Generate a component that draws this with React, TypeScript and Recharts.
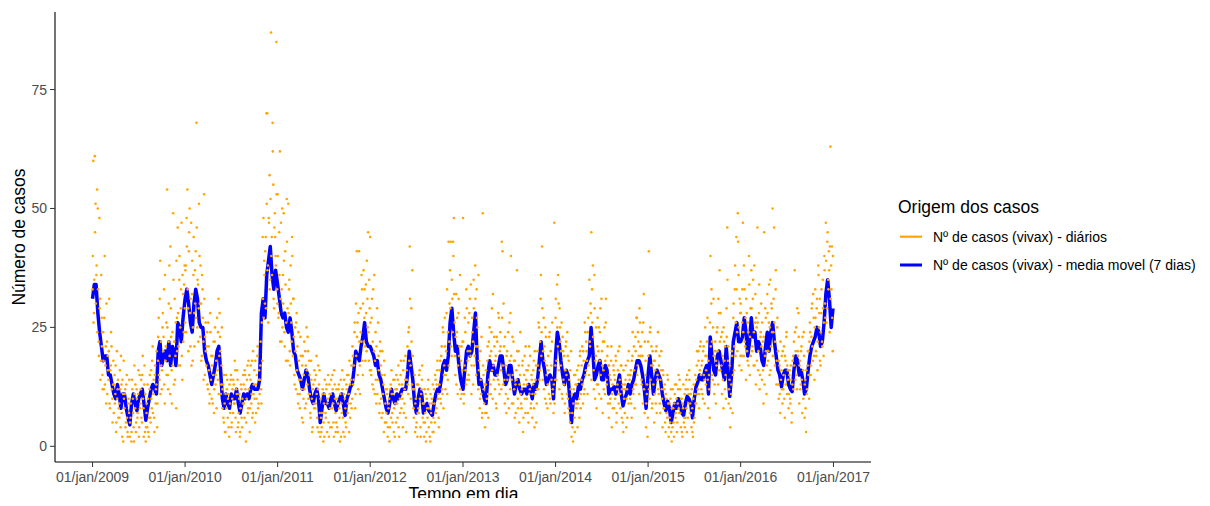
import React from 'react'
import { ComposedChart, XAxis, YAxis, Scatter, Line } from 'recharts'

const ORANGE = '#FFA500'
const BLUE = '#0000FF'
const FONT = '"Liberation Sans", Arial, sans-serif'

// day offsets (from 01/jan/2009) of each 1st of January, and their labels
const yearStarts = [0, 365, 730, 1095, 1461, 1826, 2191, 2556, 2922]
const tickLabels = [
  '01/jan/2009', '01/jan/2010', '01/jan/2011', '01/jan/2012', '01/jan/2013',
  '01/jan/2014', '01/jan/2015', '01/jan/2016', '01/jan/2017',
]
const yTicks = [0, 25, 50, 75]

// media movel (7 dias), one reading per week
const ma2009 = [31, 34, 34, 28, 24, 21, 18, 19, 19, 15, 15, 13, 11, 10, 13, 11, 8, 11, 11, 8, 6, 4.5, 9, 11, 9, 7.5, 10, 11, 12, 9, 5.5, 8, 10, 12, 13, 12, 11, 20, 22, 17, 19, 20, 18, 22, 17, 21, 20, 17, 26, 25, 22, 27]
const ma2010 = [31, 33, 30, 26, 24, 30, 33, 31, 26, 25, 25, 20, 18, 17, 15, 13, 15, 17, 20, 21, 16, 10, 8, 11, 9, 8, 11, 10, 10, 12, 9, 7, 9, 11, 10, 11, 10, 12, 13, 12, 12, 12, 14, 28, 31, 27, 36, 39, 42, 36, 33, 37]
const ma2011 = [34, 31, 28, 27, 28, 25, 24, 27, 24, 20, 19, 16, 15, 14, 12, 14, 16, 15, 12, 10, 9, 11, 12, 10, 5, 8, 11, 9, 9, 8, 10, 11, 9, 7.5, 9, 10, 11, 9, 6.5, 10, 11, 12.5, 13, 16, 20, 19, 18, 21, 23, 26, 22, 21]
const ma2012 = [21, 20, 19, 17, 18, 15, 14, 12, 10, 8, 7, 9, 12, 10, 9, 11, 10, 11, 12, 12, 12, 15, 20, 17, 14, 9, 7, 10, 12, 11, 7, 8, 9, 7.5, 7, 6.5, 9, 11, 12, 11.5, 14, 17, 18, 16, 19, 26, 29, 24, 20, 21, 17, 14]
const ma2013 = [12, 16, 20, 21, 19, 20, 24, 28, 18, 13, 14, 12, 10, 9, 15, 18, 16, 17, 15, 15, 17, 19, 19, 16, 13, 14, 17, 17, 14, 11, 13, 14, 12, 11, 12, 12, 11, 13, 12, 10, 13, 12, 14, 18, 22, 18, 16, 13, 14, 15, 14, 10]
const ma2014 = [19, 24, 22, 18, 15, 13, 16, 15, 10, 5, 10, 11, 10, 13, 12, 14, 15, 17, 18, 19, 25, 20, 14, 15, 17, 18, 14, 14, 17, 16, 11, 12, 12, 12.5, 11, 13, 15, 11, 8.5, 10, 11, 13, 11, 13, 14, 16, 18, 18, 17, 15, 12, 8]
const ma2015 = [15, 19, 15, 11, 14, 16, 15, 14, 11, 9, 7.5, 9.5, 8, 5, 7, 9, 8, 10, 9, 7, 6.5, 9, 10.5, 10, 9, 6, 10, 12.5, 13.5, 15, 14, 14, 16, 17, 11, 23, 19, 16, 15, 19, 20, 18, 16, 14, 21, 16, 10.5, 15, 22, 24, 26, 22]
const ma2016 = [22, 23, 27, 24, 19, 22, 27, 23, 24, 20, 22, 21, 18, 17, 21, 24, 20, 24, 26, 22, 19, 16, 15, 12.5, 15, 16, 16, 13, 12, 11.5, 16, 19, 18, 15, 16, 14, 11, 12, 16, 19, 21, 22, 23, 25, 24, 21, 22, 26, 32, 35, 31, 25, 29]

const daily2009 = [33, 60, 28, 61, 51, 36, 54, 50, 22, 48, 31, 18, 27, 15, 24, 12, 40, 17, 9, 22, 19, 14, 31, 8, 17, 21, 10, 13, 7, 15, 11, 3, 20, 12, 6, 9, 16, 4, 13, 2, 11, 18, 8, 12, 5, 15, 3, 9, 7, 2, 6, 1, 14, 10, 4, 17, 8, 3, 12, 6, 11, 2, 15, 9, 14, 5, 19, 8, 13, 3, 1, 7, 4, 10, 2, 12, 6, 16, 8, 21, 11, 6, 15, 9, 13, 4, 18, 27, 14, 39, 22, 12, 25, 20, 33, 9, 18, 26, 54, 15, 22, 38, 11, 29, 16, 24, 49, 13, 31, 19, 8, 27, 46, 21, 35, 17, 29, 47, 14, 32, 24, 38]
const daily2010 = [26, 38, 48, 54, 29, 41, 50, 21, 47, 32, 18, 36, 28, 37, 41, 68, 25, 34, 29, 40, 23, 30, 19, 33, 22, 53, 15, 26, 17, 24, 12, 21, 9, 28, 14, 10, 19, 15, 7, 22, 13, 18, 27, 14, 31, 19, 23, 11, 17, 8, 13, 5, 9, 3, 15, 12, 6, 11, 2, 9, 14, 4, 10, 7, 13, 9, 16, 3, 11, 14, 5, 10, 2, 8, 12, 4, 9, 13, 6, 15, 1, 10, 17, 8, 12, 3, 14, 9, 18, 7, 11, 16, 5, 13, 10, 19, 8, 14, 11, 17, 12, 26, 44, 48, 39, 30, 44, 70, 70, 38, 48, 57, 35, 87, 44, 68, 55, 29, 49, 40, 85, 33]
const daily2011 = [53, 27, 45, 62, 31, 22, 50, 36, 49, 24, 41, 18, 52, 29, 51, 33, 20, 38, 26, 44, 19, 31, 15, 25, 12, 28, 21, 9, 18, 11, 23, 14, 6, 19, 10, 22, 8, 17, 25, 13, 20, 11, 15, 7, 18, 10, 4, 13, 8, 14, 9, 19, 6, 12, 3, 16, 2, 6, 4, 11, 1, 9, 14, 7, 12, 3, 10, 5, 13, 8, 11, 4, 15, 9, 2, 13, 7, 5, 10, 3, 12, 8, 1, 14, 9, 16, 6, 11, 2, 8, 4, 12, 7, 15, 3, 13, 9, 17, 10, 19, 14, 24, 8, 30, 41, 26, 12, 41, 17, 29, 22, 33, 15, 37, 27, 21, 34, 20, 31, 45, 18, 29]
const daily2012 = [44, 16, 27, 13, 33, 20, 11, 24, 9, 29, 14, 19, 7, 22, 17, 6, 20, 11, 3, 15, 9, 5, 12, 2, 8, 10, 4, 13, 16, 7, 11, 3, 14, 9, 5, 12, 6, 17, 2, 10, 15, 8, 13, 4, 18, 9, 14, 6, 16, 21, 11, 25, 42, 17, 29, 13, 19, 8, 12, 3, 10, 5, 2, 13, 7, 16, 4, 11, 14, 6, 9, 2, 5, 11, 3, 8, 12, 4, 9, 1, 7, 10, 3, 6, 12, 5, 14, 8, 16, 10, 6, 13, 18, 9, 21, 11, 24, 15, 27, 12, 20, 33, 14, 43, 22, 37, 43, 19, 31, 43, 48, 26, 15, 32, 24, 11, 28, 19, 36, 10, 21, 16]
const daily2013 = [48, 9, 17, 24, 13, 29, 18, 26, 14, 31, 19, 11, 27, 22, 35, 17, 38, 21, 33, 25, 12, 16, 8, 20, 11, 6, 49, 15, 9, 4, 13, 7, 18, 11, 22, 25, 13, 20, 29, 10, 17, 23, 12, 19, 8, 22, 14, 27, 11, 24, 16, 43, 41, 13, 21, 9, 17, 7, 20, 10, 15, 26, 12, 40, 14, 23, 9, 18, 6, 13, 16, 37, 10, 20, 5, 15, 11, 8, 17, 3, 13, 19, 7, 14, 10, 16, 5, 21, 12, 8, 15, 6, 13, 18, 4, 11, 17, 9, 20, 12, 25, 16, 31, 19, 42, 14, 27, 21, 10, 23, 15, 8, 19, 11, 24, 9, 17, 22, 12, 7, 47, 14]
const daily2014 = [27, 14, 34, 21, 30, 12, 25, 17, 26, 10, 20, 13, 7, 16, 22, 11, 19, 8, 14, 5, 12, 2, 7, 1, 12, 6, 15, 9, 13, 4, 17, 10, 19, 8, 14, 21, 9, 18, 12, 24, 16, 20, 11, 27, 15, 22, 30, 45, 33, 38, 16, 36, 10, 19, 8, 21, 13, 25, 18, 29, 10, 20, 7, 16, 22, 11, 26, 14, 19, 9, 6, 15, 10, 18, 4, 13, 17, 8, 14, 19, 5, 12, 16, 9, 21, 11, 17, 6, 13, 3, 10, 7, 14, 4, 12, 18, 9, 15, 10, 16, 6, 19, 12, 21, 8, 23, 13, 27, 17, 22, 11, 26, 19, 14, 24, 9, 32, 7, 15, 4, 11, 2]
const daily2015 = [22, 41, 10, 25, 17, 8, 20, 13, 5, 18, 9, 21, 14, 24, 11, 19, 7, 16, 12, 4, 15, 8, 13, 3, 10, 6, 14, 2, 9, 5, 12, 1, 4, 8, 2, 11, 6, 13, 3, 9, 15, 7, 12, 4, 10, 2, 8, 5, 11, 6, 14, 3, 12, 9, 16, 7, 11, 4, 8, 2, 13, 6, 15, 9, 17, 11, 20, 8, 16, 22, 12, 18, 10, 21, 14, 25, 13, 19, 27, 8, 15, 6, 40, 30, 22, 14, 31, 11, 20, 9, 17, 25, 13, 28, 37, 16, 23, 11, 19, 8, 22, 12, 15, 29, 46, 18, 9, 14, 4, 11, 20, 7, 27, 16, 33, 19, 44, 24, 49, 36, 17, 28]
const daily2016 = [30, 16, 26, 47, 19, 33, 21, 14, 28, 18, 24, 40, 15, 29, 37, 20, 31, 17, 38, 26, 13, 25, 46, 16, 28, 12, 23, 30, 14, 22, 9, 45, 19, 27, 11, 32, 18, 26, 15, 35, 21, 29, 50, 24, 46, 17, 33, 13, 25, 20, 10, 17, 7, 14, 19, 9, 12, 21, 6, 18, 23, 11, 16, 8, 15, 10, 17, 5, 13, 19, 22, 37, 14, 25, 12, 20, 28, 9, 18, 13, 21, 7, 16, 24, 6, 14, 3, 11, 17, 20, 10, 26, 15, 23, 30, 18, 27, 14, 33, 20, 29, 16, 38, 25, 31, 17, 28, 22, 35, 19, 40, 30, 47, 26, 43, 35, 41, 24, 63, 38, 42, 20]

// second reading of the cloud (day 3i + 1 of each year)
const dailyB2009 = [40, 26, 35, 45, 30, 38, 24, 33, 19, 29, 14, 36, 21, 12, 18, 27, 13, 21, 30, 11, 16, 20, 9, 16, 24, 12, 5, 18, 13, 9, 17, 5, 10, 14, 8, 6, 12, 19, 7, 14, 1, 10, 11, 4, 13, 6, 2, 10, 14, 5, 9, 3, 12, 7, 1, 11, 13, 5, 10, 7, 16, 4, 8, 12, 6, 15, 10, 2, 17, 11, 4, 9, 13, 3, 6, 15, 5, 10, 18, 7, 14, 3, 17, 12, 20, 9, 23, 15, 31, 11, 17, 16, 28, 23, 13, 36, 21, 15, 25, 12, 30, 19, 42, 23, 9, 17, 35, 22, 14, 26, 39, 20, 28, 17, 40, 25, 33, 19, 36, 22, 34, 29]
const dailyB2010 = [37, 24, 42, 33, 20, 45, 28, 31, 17, 39, 25, 44, 21, 30, 27, 46, 35, 22, 51, 30, 38, 18, 36, 27, 14, 31, 23, 20, 21, 13, 26, 16, 11, 24, 19, 17, 9, 22, 12, 25, 15, 8, 16, 24, 11, 28, 20, 13, 25, 12, 6, 15, 3, 11, 8, 14, 10, 4, 13, 7, 15, 5, 12, 14, 9, 18, 6, 12, 16, 4, 7, 11, 3, 13, 6, 10, 15, 9, 16, 12, 5, 14, 7, 18, 15, 8, 17, 11, 6, 20, 13, 10, 18, 7, 15, 21, 9, 16, 14, 22, 9, 18, 31, 27, 36, 41, 29, 51, 37, 26, 47, 33, 52, 40, 36, 62, 31, 46, 44, 38, 53, 30]
const dailyB2011 = [40, 28, 36, 22, 47, 33, 25, 30, 39, 21, 34, 26, 43, 18, 28, 35, 17, 30, 22, 40, 31, 23, 13, 20, 26, 16, 11, 24, 14, 8, 19, 12, 17, 5, 15, 12, 20, 9, 16, 23, 10, 18, 11, 6, 14, 3, 12, 9, 16, 8, 15, 11, 4, 17, 13, 7, 10, 3, 7, 12, 5, 2, 11, 6, 13, 9, 15, 2, 11, 4, 14, 8, 12, 5, 16, 10, 3, 12, 4, 9, 13, 6, 11, 2, 7, 12, 3, 14, 10, 5, 13, 15, 9, 11, 18, 6, 14, 8, 21, 13, 17, 26, 11, 19, 23, 15, 28, 22, 11, 24, 36, 18, 30, 22, 33, 18, 28, 39, 25, 24, 35, 16]
const dailyB2012 = [26, 15, 31, 22, 12, 36, 18, 14, 21, 11, 26, 16, 9, 20, 10, 15, 7, 13, 18, 5, 12, 7, 11, 4, 9, 1, 12, 6, 11, 5, 14, 8, 2, 12, 15, 9, 14, 4, 13, 7, 18, 11, 10, 16, 7, 12, 19, 3, 14, 13, 24, 18, 31, 10, 22, 37, 12, 6, 15, 9, 4, 13, 7, 8, 15, 10, 2, 12, 17, 9, 5, 12, 7, 1, 10, 6, 14, 8, 2, 11, 5, 9, 13, 3, 9, 15, 7, 13, 18, 11, 4, 16, 10, 19, 12, 25, 8, 17, 21, 15, 28, 11, 24, 17, 30, 29, 21, 35, 24, 40, 32, 19, 23, 13, 27, 17, 31, 21, 12, 18, 11, 22]
const dailyB2013 = [22, 11, 27, 16, 33, 14, 20, 15, 28, 20, 34, 17, 24, 13, 29, 19, 31, 15, 27, 21, 36, 18, 10, 14, 23, 7, 17, 12, 13, 7, 16, 10, 21, 6, 14, 19, 11, 24, 16, 32, 14, 21, 18, 9, 23, 15, 28, 13, 20, 21, 12, 27, 17, 30, 14, 23, 11, 19, 14, 24, 8, 18, 28, 19, 9, 15, 22, 12, 18, 7, 14, 20, 8, 17, 13, 24, 9, 12, 18, 6, 15, 10, 21, 16, 13, 7, 17, 11, 19, 9, 14, 11, 16, 8, 20, 14, 5, 12, 17, 26, 14, 22, 36, 24, 29, 20, 12, 18, 25, 9, 17, 13, 16, 23, 10, 20, 14, 26, 11, 13, 9, 17]
const dailyB2014 = [31, 18, 25, 36, 16, 29, 22, 20, 11, 23, 14, 19, 9, 21, 15, 24, 10, 18, 7, 16, 20, 11, 4, 9, 15, 3, 13, 8, 16, 9, 14, 6, 20, 11, 17, 13, 20, 11, 26, 15, 22, 18, 24, 17, 35, 21, 28, 14, 26, 23, 12, 29, 18, 25, 13, 27, 20, 11, 24, 15, 31, 17, 22, 12, 25, 18, 31, 13, 21, 17, 17, 9, 14, 21, 11, 8, 16, 15, 10, 18, 7, 13, 20, 11, 14, 8, 17, 12, 5, 16, 12, 13, 17, 10, 6, 15, 20, 14, 15, 9, 18, 24, 11, 16, 13, 20, 27, 15, 24, 19, 29, 21, 21, 13, 19, 26, 12, 22, 18, 9, 13, 6]
const dailyB2015 = [19, 12, 24, 14, 21, 9, 17, 18, 11, 16, 20, 7, 15, 12, 17, 9, 14, 20, 10, 16, 8, 12, 5, 11, 7, 15, 9, 4, 6, 10, 3, 8, 12, 5, 9, 13, 7, 10, 5, 12, 8, 14, 7, 10, 3, 9, 13, 6, 4, 12, 8, 15, 6, 11, 14, 9, 7, 12, 3, 10, 5, 11, 9, 14, 20, 12, 18, 11, 21, 15, 17, 11, 20, 15, 9, 19, 16, 22, 14, 18, 12, 26, 21, 33, 15, 25, 19, 13, 22, 18, 24, 20, 31, 16, 22, 28, 17, 24, 14, 25, 18, 21, 10, 23, 35, 21, 12, 17, 8, 13, 19, 15, 30, 21, 38, 26, 33, 20, 43, 25, 31, 19]
const dailyB2016 = [28, 19, 33, 24, 38, 22, 27, 31, 20, 26, 17, 34, 23, 19, 29, 21, 35, 24, 17, 32, 27, 18, 26, 20, 34, 15, 24, 21, 26, 16, 23, 13, 29, 20, 17, 28, 20, 34, 25, 16, 30, 24, 19, 31, 26, 22, 37, 18, 27, 13, 18, 11, 22, 16, 12, 20, 15, 10, 19, 13, 24, 17, 14, 11, 16, 9, 14, 7, 18, 12, 17, 24, 20, 15, 29, 19, 23, 17, 12, 20, 14, 23, 10, 19, 13, 8, 16, 12, 20, 15, 22, 24, 17, 29, 21, 32, 19, 25, 27, 19, 31, 22, 36, 28, 18, 24, 33, 21, 29, 26, 37, 27, 39, 29, 45, 33, 37, 42, 31, 33, 27, 40]

const maByYear = [ma2009, ma2010, ma2011, ma2012, ma2013, ma2014, ma2015, ma2016]
const dailyByYear = [daily2009, daily2010, daily2011, daily2012, daily2013, daily2014, daily2015, daily2016]
const dailyBByYear = [dailyB2009, dailyB2010, dailyB2011, dailyB2012, dailyB2013, dailyB2014, dailyB2015, dailyB2016]

const maPoints = maByYear.flatMap((vals, y) => vals.map((v, w) => ({ d: yearStarts[y] + w * 7, v })))
const dailyPoints = [
  ...dailyByYear.flatMap((vals, y) => vals.map((v, i) => ({ d: yearStarts[y] + i * 3, v }))),
  ...dailyBByYear.flatMap((vals, y) => vals.map((v, i) => ({ d: yearStarts[y] + i * 3 + 1, v }))),
]

const Dot = (props: any) => <circle cx={props.cx} cy={props.cy} r={1.3} fill={ORANGE} />

const XTick = (props: any) => (
  <text x={props.x} y={props.y} dy="0.71em" textAnchor="middle" fontSize={14} fill="#4D4D4D" fontFamily={FONT}>
    {tickLabels[yearStarts.indexOf(props.payload.value)]}
  </text>
)

const YTick = (props: any) => (
  <text x={props.x} y={props.y} dy="0.36em" textAnchor="end" fontSize={14} fill="#4D4D4D" fontFamily={FONT}>
    {props.payload.value}
  </text>
)

export default function App() {
  return (
    <div style={{ position: 'relative', width: 1190, height: 490, fontFamily: FONT }}>
      <ComposedChart width={900} height={490} margin={{ top: 4, right: 37, left: 0, bottom: 0 }}>
        <XAxis
          type="number"
          dataKey="d"
          domain={[-148, 3070]}
          allowDataOverflow
          ticks={yearStarts}
          interval={0}
          height={36}
          tickSize={5}
          tickMargin={5}
          axisLine={{ stroke: '#000', strokeWidth: 1.1 }}
          tickLine={{ stroke: '#333' }}
          tick={XTick}
        />
        <YAxis
          type="number"
          dataKey="v"
          domain={[-3.3, 91.3]}
          allowDataOverflow
          ticks={yTicks}
          interval={0}
          width={47}
          tickSize={5}
          tickMargin={3}
          axisLine={{ stroke: '#000', strokeWidth: 1.1 }}
          tickLine={{ stroke: '#333' }}
          tick={YTick}
        />
        <Scatter data={dailyPoints} fill={ORANGE} shape={Dot} isAnimationActive={false} />
        <Line data={maPoints} dataKey="v" type="linear" stroke={BLUE} strokeWidth={3.5} strokeLinejoin="round" dot={false} activeDot={false} isAnimationActive={false} />
      </ComposedChart>
      <svg width={1190} height={498} style={{ position: 'absolute', left: 0, top: 0, pointerEvents: 'none', overflow: 'visible' }}>
        <text x={455.5} y={492} textAnchor="middle" fontSize={17.5} fill="#000">Tempo em dia</text>
        <text transform="translate(16.5, 229) rotate(-90)" textAnchor="middle" fontSize={17.5} fill="#000">Número de casos</text>
        <text x={890} y={205} fontSize={17.5} fill="#000">Origem dos casos</text>
        <line x1={892} x2={914} y1={228.7} y2={228.7} stroke={ORANGE} strokeWidth={2.2} />
        <text x={925} y={228.7} dy="0.35em" fontSize={14} fill="#000">Nº de casos (vivax) - diários</text>
        <line x1={892} x2={914} y1={257} y2={257} stroke={BLUE} strokeWidth={3} />
        <text x={925} y={257} dy="0.35em" fontSize={14} fill="#000">Nº de casos (vivax) - media movel (7 dias)</text>
      </svg>
    </div>
  )
}
